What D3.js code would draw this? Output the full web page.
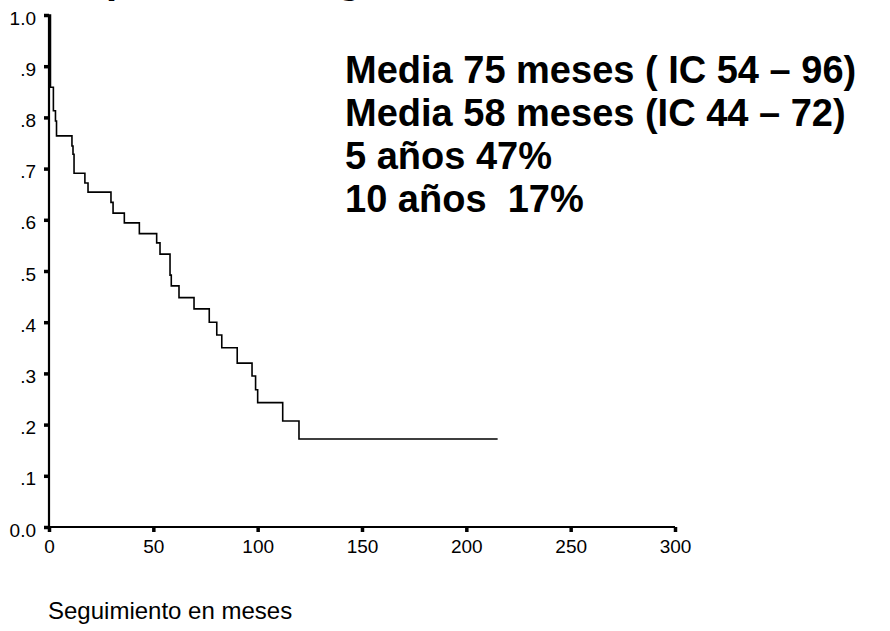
<!DOCTYPE html>
<html>
<head>
<meta charset="utf-8">
<script src="https://cdn.jsdelivr.net/npm/d3@7"></script>
<style>
  body { margin: 0; background: #fff; }
  text { font-family: "Liberation Sans", Arial, sans-serif; }
</style>
</head>
<body>
<script>
// kaplan-meier steps: time in months, survival after the drop
const stepTimes = [0.7, 2.1, 3.1, 3.6, 11.0, 11.5, 12.0, 17.2, 18.7, 29.7, 30.7, 36.1, 43.3,
    51.6, 53.2, 58.0, 58.6, 62.3, 69.5, 76.8, 80.4, 82.8, 90.2, 97.3, 99.0, 100.0, 112.0, 119.8];
const stepSurv = [0.859, 0.813, 0.793, 0.764, 0.744, 0.728, 0.691, 0.672, 0.654, 0.634, 0.613, 0.594, 0.573,
    0.555, 0.533, 0.492, 0.471, 0.448, 0.426, 0.400, 0.375, 0.350, 0.320, 0.295, 0.268, 0.243, 0.207, 0.172];
const lastTime = 215;

const xTicks = [0, 50, 100, 150, 200, 250, 300];
const yTicks = [0, 0.1, 0.2, 0.3, 0.4, 0.5, 0.6, 0.7, 0.8, 0.9, 1.0];
const yTickLabels = ["0.0", ".1", ".2", ".3", ".4", ".5", ".6", ".7", ".8", ".9", "1.0"];

const statLines = ["Media 75 meses ( IC 54 \u2013 96)", "Media 58 meses (IC 44 \u2013 72)", "5 a\u00f1os 47%", "10 a\u00f1os  17%"];

let svg = d3.select("body").append("svg").attr("width", 890).attr("height", 631);

let x = d3.scaleLinear().domain([0, 300]).range([49, 675]);
let y = d3.scaleLinear().domain([0, 1]).range([527, 15]);

// title, mostly cut off above the frame
svg.append("text")
    .attr("x", 55).attr("y", -7)
    .attr("font-size", 40).attr("font-weight", "bold")
    .text("Supervivencia global");

// y axis
let yAxis = d3.axisLeft(y).tickValues(yTicks).tickSize(5).tickPadding(8)
    .tickFormat((d, i) => yTickLabels[i]);
let gy = svg.append("g").attr("transform", "translate(" + x(0) + ",0)").call(yAxis);
gy.select(".domain").attr("stroke-width", 2.2).attr("d", "M0," + y(1) + "V" + (y(0) + 1));
gy.selectAll(".tick line").attr("stroke-width", 3.5);
gy.selectAll(".tick text").attr("font-size", 19).attr("font-family", "Liberation Sans, Arial, sans-serif")
    .attr("transform", "translate(0,3)");

// x axis
let xAxis = d3.axisBottom(x).tickValues(xTicks).tickSize(5).tickPadding(8);
let gx = svg.append("g").attr("transform", "translate(0," + y(0) + ")").call(xAxis);
gx.select(".domain").attr("stroke-width", 2.2).attr("d", "M" + x(0) + ",0H" + x(300));
gx.selectAll(".tick line").attr("stroke-width", 3.5);
gx.selectAll(".tick text").attr("font-size", 19).attr("font-family", "Liberation Sans, Arial, sans-serif");

// survival curve
let pts = [[0, 1]];
for (let i = 0; i < stepTimes.length; i++) {
    pts.push([stepTimes[i], stepSurv[i]]);
}
pts.push([lastTime, stepSurv[stepSurv.length - 1]]);

let line = d3.line().x(d => x(d[0])).y(d => y(d[1])).curve(d3.curveStepAfter);
svg.append("path")
    .datum(pts)
    .attr("d", line)
    .attr("fill", "none")
    .attr("stroke", "#000")
    .attr("stroke-width", 1.6);

// stats block
svg.selectAll(".stat")
    .data(statLines)
    .enter().append("text")
    .attr("class", "stat")
    .attr("x", 345)
    .attr("y", (d, i) => 83 + i * 43)
    .attr("font-size", 38)
    .attr("font-weight", "bold")
    .style("white-space", "pre")
    .text(d => d);

svg.append("text")
    .attr("x", 48).attr("y", 619)
    .attr("font-size", 24)
    .text("Seguimiento en meses");
</script>
</body>
</html>
